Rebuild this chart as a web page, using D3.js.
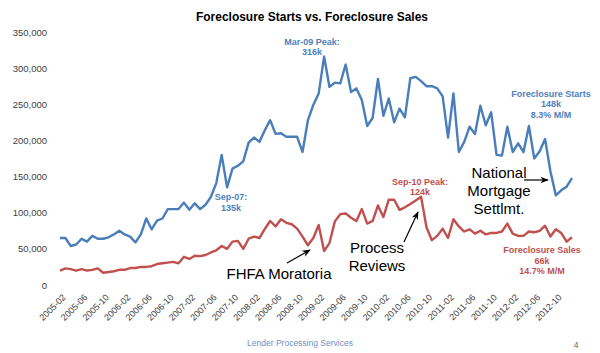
<!DOCTYPE html>
<html><head><meta charset="utf-8">
<script src="https://cdn.jsdelivr.net/npm/d3@7"></script>
<style>body{margin:0;background:#fff}svg{display:block}</style>
</head><body>
<script>
const months = [
"2005-02","2005-03","2005-04","2005-05","2005-06","2005-07","2005-08","2005-09","2005-10","2005-11","2005-12","2006-01",
"2006-02","2006-03","2006-04","2006-05","2006-06","2006-07","2006-08","2006-09","2006-10","2006-11","2006-12","2007-01",
"2007-02","2007-03","2007-04","2007-05","2007-06","2007-07","2007-08","2007-09","2007-10","2007-11","2007-12","2008-01",
"2008-02","2008-03","2008-04","2008-05","2008-06","2008-07","2008-08","2008-09","2008-10","2008-11","2008-12","2009-01",
"2009-02","2009-03","2009-04","2009-05","2009-06","2009-07","2009-08","2009-09","2009-10","2009-11","2009-12","2010-01",
"2010-02","2010-03","2010-04","2010-05","2010-06","2010-07","2010-08","2010-09","2010-10","2010-11","2010-12","2011-01",
"2011-02","2011-03","2011-04","2011-05","2011-06","2011-07","2011-08","2011-09","2011-10","2011-11","2011-12","2012-01",
"2012-02","2012-03","2012-04","2012-05","2012-06","2012-07","2012-08","2012-09","2012-10","2012-11","2012-12","2013-01"];
// thousands
const foreclosureStarts = [
65,65,54,56,64,60,68,64,64,66,70,75,
70,67,59,70,92,77,89,92,105,105,105,114,
104,113,105,111,122,141,180,135,161,165,171,197,
204,198,214,228,209,210,205,205,205,184,228,249,
265,316,274,280,279,305,267,272,256,220,231,285,
234,258,225,244,232,286,288,282,275,275,272,261,
204,265,184,198,219,209,248,221,239,180,179,219,
184,196,184,220,175,185,202,157,124,131,136,148];
const foreclosureSales = [
20,23,22,20,22,20,21,23,17,18,19,21,
21,23.5,23.5,25,25,26,29,30,31,32,30,39,
36,40.5,40,41.5,45,48,54,50,60,61,50,64,
67,65,77.5,88.5,81,91,86,84,78,67,55,65,
83,47,58,88,98,99,93,88.5,105,85,88.5,110,
94,118,118,104,107.5,112,117,122,80,62,68,78,
65,91,81,74,77,71,75,70,72,72,74,85,
71,68,68,74,73,75,82,67,77,72,60,66];
const yTicks = [0,50000,100000,150000,200000,250000,300000,350000];
const xTickLabels = months.filter((d,i)=>i%4===0);

const W=600,H=353;
const svg=d3.select("body").append("svg").attr("width",W).attr("height",H);
const defs=svg.append("defs");
defs.append("marker").attr("id","ah").attr("viewBox","0 0 10 10").attr("refX",9).attr("refY",5)
 .attr("markerWidth",7).attr("markerHeight",7).attr("orient","auto-start-reverse")
 .append("path").attr("d","M0,1 L10,5 L0,9 L3,5 z").attr("fill","#000");

const x=d3.scalePoint().domain(months).range([60,572]);
const y=d3.scaleLinear().domain([0,350000]).range([285,32]);
const font="'Liberation Sans', Arial, sans-serif";

// title
svg.append("text").attr("x",312).attr("y",21).attr("text-anchor","middle")
 .attr("font-family",font).attr("font-weight","bold").attr("font-size",13)
 .attr("textLength",232).attr("lengthAdjust","spacingAndGlyphs").attr("fill","#000")
 .text("Foreclosure Starts vs. Foreclosure Sales");

// y axis
const yAxis=d3.axisLeft(y).tickValues(yTicks).tickFormat(d3.format(",")).tickSize(0).tickPadding(0);
const gy=svg.append("g").attr("transform","translate(47,0)").call(yAxis);
gy.select(".domain").remove();
gy.selectAll("text").attr("font-family",font).attr("font-size",9.5).attr("fill","#404040");

// x axis
const xAxis=d3.axisBottom(x).tickValues(xTickLabels).tickSize(0).tickPadding(0);
const gx=svg.append("g").attr("transform","translate(0,290)").call(xAxis);
gx.select(".domain").remove();
gx.selectAll("text").attr("font-family",font).attr("font-size",9).attr("fill","#404040")
 .attr("text-anchor","end").attr("dy","0.3em")
 .attr("transform","translate(4,6) rotate(-45)");

// lines
const line=arr=>d3.line().x((d,i)=>x(months[i])).y(d=>y(d*1000))(arr);
svg.append("path").attr("d",line(foreclosureSales)).attr("fill","none").attr("stroke","#C0504D").attr("stroke-width",2.4).attr("stroke-linejoin","round");
svg.append("path").attr("d",line(foreclosureStarts)).attr("fill","none").attr("stroke","#4A7EBB").attr("stroke-width",2.4).attr("stroke-linejoin","round");

// annotations
function lbl(lines,cx,y0,lh,color,size,bold){
  const t=svg.append("text").attr("text-anchor","middle").attr("font-family",font)
   .attr("font-size",size).attr("font-weight",bold?"bold":"normal").attr("fill",color);
  lines.forEach((s,i)=>t.append("tspan").attr("x",cx).attr("y",y0+i*lh).text(s));
}
const blue="#4F81BD", red="#C0504D";
lbl(["Mar-09 Peak:","316k"],312,44.5,10,blue,9,true);
lbl(["Sep-07:","135k"],231,200,10.5,blue,9,true);
lbl(["Foreclosure Starts","148k","8.3% M/M"],551,96.5,10.5,blue,9,true);
lbl(["Sep-10 Peak:","124k"],420,185,10,red,9,true);
lbl(["Foreclosure Sales","66k","14.7% M/M"],542,253,10.5,red,9,true);
lbl(["FHFA Moratoria"],279,279,18,"#000",15,false);
lbl(["Process","Reviews"],377,253,18,"#000",15,false);
lbl(["National","Mortgage","Settlmt."],499,178,18,"#000",15,false);

function arrow(x1,y1,x2,y2){
  svg.append("line").attr("x1",x1).attr("y1",y1).attr("x2",x2).attr("y2",y2)
   .attr("stroke","#000").attr("stroke-width",1.2).attr("marker-end","url(#ah)");
}
arrow(287,263,310,250);
arrow(404,242,418,212);
arrow(524,180,548,180);

// footer
svg.append("text").attr("x",300).attr("y",346).attr("text-anchor","middle").attr("font-family",font)
 .attr("font-size",8.5).attr("fill","#6D8FC4").text("Lender Processing Services");
svg.append("text").attr("x",576).attr("y",348).attr("text-anchor","middle").attr("font-family",font)
 .attr("font-size",8.5).attr("fill","#666").text("4");
</script>
</body></html>
